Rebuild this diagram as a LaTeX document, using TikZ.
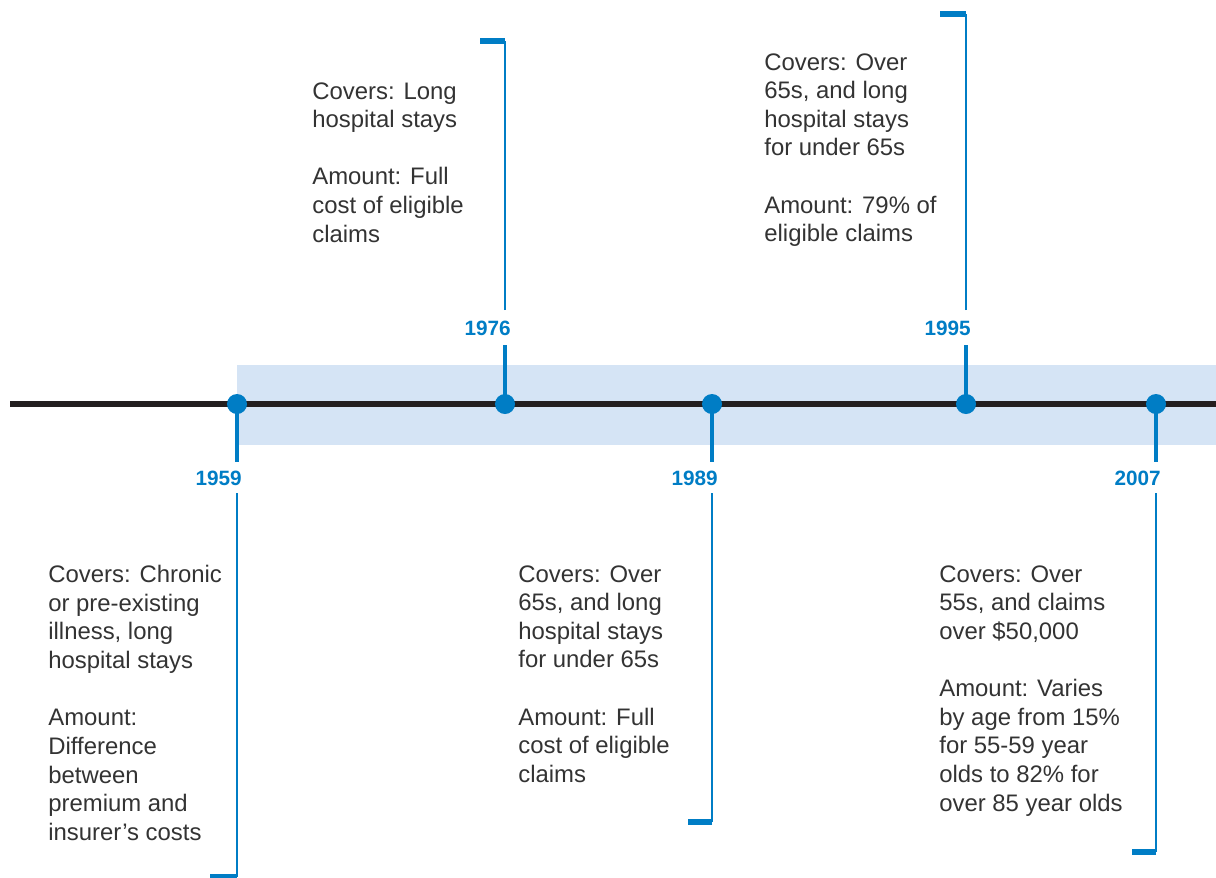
\documentclass[tikz,border=0pt]{standalone}
\usepackage{fontspec}
\setmainfont{Liberation Sans}
\usetikzlibrary{positioning}
\definecolor{LineBlack}{RGB}{35,31,32}
\definecolor{YearBlue}{RGB}{0,125,197}
\definecolor{BandBlue}{RGB}{213,228,245}
\definecolor{TextGrey}{RGB}{51,51,51}
\tikzset{
  dot/.style={circle, fill=YearBlue, minimum size=0.4cm, inner sep=0pt},
  yearlab/.style={anchor=east, inner sep=0pt, text=YearBlue,
    font=\fontsize{11.8}{14}\selectfont\bfseries},
  infotext/.style={anchor=north west, align=left, inner sep=0pt, text=TextGrey,
    font=\fontsize{13.6}{16.3}\selectfont},
  stem/.style={YearBlue, line width=2.3pt},
  bracket/.style={YearBlue, line width=1.1pt},
  tick/.style={YearBlue, line width=3.6pt},
  axis/.style={LineBlack, line width=3.4pt},
}
\begin{document}
\begin{tikzpicture}[x=0.02cm, y=-0.02cm]
  \useasboundingbox (0,0) rectangle (1216,877);
  \fill[BandBlue] (237,365) rectangle (1216,445);
  \coordinate (axl) at (10,404);
  \coordinate (axr) at (1216,404);
  \draw[axis] (axl) -- (axr);

  \node[dot] (d59) at (237,404) {};
  \node[dot] (d76) at (505,404) {};
  \node[dot] (d89) at (712,404) {};
  \node[dot] (d95) at (966,404) {};
  \node[dot] (d07) at (1156,404) {};

  \coordinate (s59) at (237,462);
  \coordinate (s76) at (505,345);
  \coordinate (s89) at (712,462);
  \coordinate (s95) at (966,345);
  \coordinate (s07) at (1156,462);
  \draw[stem] (d59.center) -- (s59);
  \draw[stem] (d76.center) -- (s76);
  \draw[stem] (d89.center) -- (s89);
  \draw[stem] (d95.center) -- (s95);
  \draw[stem] (d07.center) -- (s07);

  \node[yearlab] (y59) at (242,478) {1959};
  \node[yearlab] (y76) at (511,328) {1976};
  \node[yearlab] (y89) at (718,478) {1989};
  \node[yearlab] (y95) at (971,328) {1995};
  \node[yearlab] (y07) at (1161,478) {2007};

  \coordinate (b59) at (237,493);  \coordinate (e59) at (237,877);  \coordinate (k59) at (210,877);
  \coordinate (b76) at (505,310);  \coordinate (e76) at (505,41);   \coordinate (k76) at (480,41);
  \coordinate (b89) at (712,493);  \coordinate (e89) at (712,822);  \coordinate (k89) at (688,822);
  \coordinate (b95) at (966,310);  \coordinate (e95) at (966,14);   \coordinate (k95) at (940,14);
  \coordinate (b07) at (1156,493); \coordinate (e07) at (1156,852); \coordinate (k07) at (1132,852);
  \draw[bracket] (b59) -- (e59);
  \draw[bracket] (b76) -- (e76);
  \draw[bracket] (b89) -- (e89);
  \draw[bracket] (b95) -- (e95);
  \draw[bracket] (b07) -- (e07);
  \draw[tick] (e59) -- (k59);
  \draw[tick] (e76) -- (k76);
  \draw[tick] (e89) -- (k89);
  \draw[tick] (e95) -- (k95);
  \draw[tick] (e07) -- (k07);

  \node[infotext] (t76) at (312,82) {Covers: Long\\hospital stays\\[16.3pt]Amount: Full\\cost of eligible\\claims};
  \node[infotext] (t95) at (764,53) {Covers: Over\\65s, and long\\hospital stays\\for under 65s\\[16.3pt]Amount: 79\% of\\eligible claims};
  \node[infotext] (t59) at (48,565) {Covers: Chronic\\or pre-existing\\illness, long\\hospital stays\\[16.3pt]Amount:\\Difference\\between\\premium and\\insurer’s costs};
  \node[infotext] (t89) at (518,565) {Covers: Over\\65s, and long\\hospital stays\\for under 65s\\[16.3pt]Amount: Full\\cost of eligible\\claims};
  \node[infotext] (t07) at (939,565) {Covers: Over\\55s, and claims\\over \$50,000\\[16.3pt]Amount: Varies\\by age from 15\%\\for 55-59 year\\olds to 82\% for\\over 85 year olds};
\end{tikzpicture}
\end{document}
